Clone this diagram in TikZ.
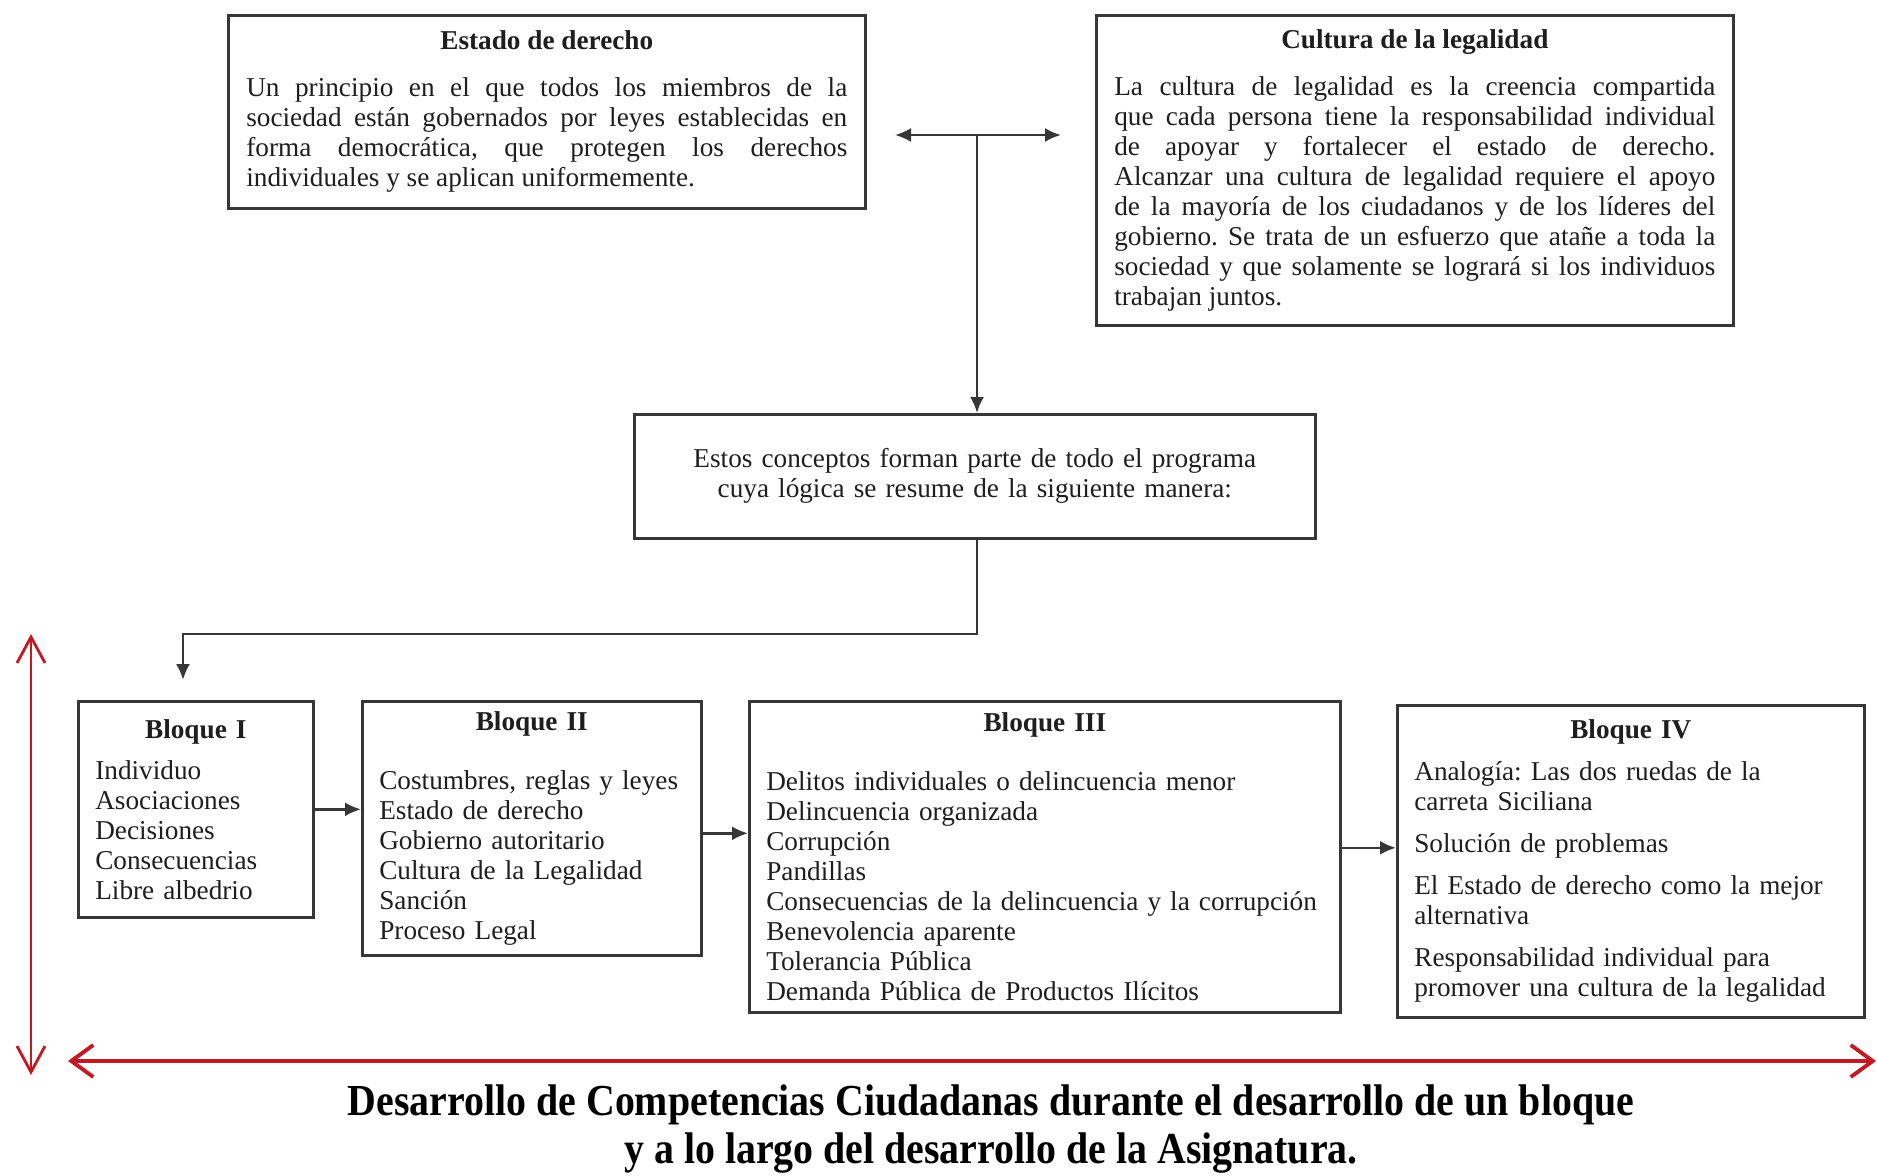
\documentclass[tikz,border=0pt]{standalone}
\usepackage{fontspec}
\setmainfont{Liberation Serif}
\newfontfamily\capfont[FakeStretch=0.9]{Liberation Serif}
\usetikzlibrary{arrows.meta, positioning, calc}
\definecolor{boxline}{RGB}{55,55,55}
\definecolor{inktext}{RGB}{30,30,30}
\definecolor{axisred}{RGB}{195,25,35}
\newcommand{\boxhead}[2]{\centerline{\bfseries #1}\par\vspace{#2}}

\begin{document}
\begin{tikzpicture}[
  box/.style={draw=boxline, line width=0.75pt, anchor=north west, text=inktext,
    inner xsep=0.17cm, inner ysep=0pt, font=\fontsize{7.75}{8.54}\selectfont\frenchspacing},
  link/.style={draw=boxline, line width=0.7pt, -{Latex[length=0.16cm,width=0.14cm]}},
  axis/.style={draw=axisred, line width=1.1pt}
]
  \useasboundingbox (0,0) rectangle (18.77,-11.75);

  % Top boxes
  \node[box, align=justify, minimum width=6.37cm, minimum height=1.93cm, text width=6.01cm] (estado) at (2.27,-0.14)
    {\boxhead{Estado de derecho}{0.17cm}Un principio en el que todos los miembros de la\linebreak
     sociedad están gobernados por leyes establecidas en\linebreak
     forma democrática, que protegen los derechos\linebreak
     individuales y se aplican uniformemente.};
  \node[box, align=justify, minimum width=6.37cm, minimum height=3.10cm, text width=6.01cm] (cultura) at (10.95,-0.14)
    {\boxhead{Cultura de la legalidad}{0.17cm}La cultura de legalidad es la creencia compartida\linebreak
     que cada persona tiene la responsabilidad individual\linebreak
     de apoyar y fortalecer el estado de derecho.\linebreak
     Alcanzar una cultura de legalidad requiere el apoyo\linebreak
     de la mayoría de los ciudadanos y de los líderes del\linebreak
     gobierno. Se trata de un esfuerzo que atañe a toda la\linebreak
     sociedad y que solamente se logrará si los individuos\linebreak
     trabajan juntos.};

  % Middle box
  \node[box, align=center, minimum width=6.81cm, minimum height=1.24cm, text width=6.47cm] (resumen) at (6.33,-4.13)
    {Estos conceptos forman parte de todo el programa\\cuya lógica se resume de la siguiente manera:};

  % Bloques
  \node[box, align=left, minimum width=2.35cm, minimum height=2.16cm, text width=2.01cm] (b1) at (0.77,-7.00)
    {\boxhead{Bloque I}{0.11cm}Individuo\\Asociaciones\\Decisiones\\Consecuencias\\Libre albedrio};
  \node[box, align=left, minimum width=3.39cm, minimum height=2.54cm, text width=3.05cm] (b2) at (3.61,-7.00)
    {\boxhead{Bloque II}{0.29cm}Costumbres, reglas y leyes\\Estado de derecho\\Gobierno autoritario\\
     Cultura de la Legalidad\\Sanción\\Proceso Legal};
  \node[box, align=left, minimum width=5.91cm, minimum height=3.11cm, text width=5.57cm] (b3) at (7.48,-7.00)
    {\boxhead{Bloque III}{0.29cm}Delitos individuales o delincuencia menor\\Delincuencia organizada\\
     Corrupción\\Pandillas\\Consecuencias de la delincuencia y la corrupción\\
     Benevolencia aparente\\Tolerancia Pública\\Demanda Pública de Productos Ilícitos};
  \node[box, align=left, minimum width=4.67cm, minimum height=3.12cm, text width=4.33cm] (b4) at (13.96,-7.04)
    {\boxhead{Bloque IV}{0.12cm}Analogía: Las dos ruedas de la\\carreta Siciliana\\[0.12cm]
     Solución de problemas\\[0.12cm]El Estado de derecho como la mejor\\alternativa\\[0.12cm]
     Responsabilidad individual para\\promover una cultura de la legalidad};

  % Arrows
  \coordinate (hl) at (8.95,-1.35);
  \coordinate (hr) at (10.61,-1.35);
  \coordinate (hm) at (9.77,-1.35);
  \coordinate (turn) at (1.83,-6.34);
  \coordinate (down) at (1.83,-6.80);
  \draw[link, {Latex[length=0.16cm,width=0.14cm]}-{Latex[length=0.16cm,width=0.14cm]}] (hl) -- (hr);
  \draw[link] (hm) -- (hm |- resumen.north);
  \draw[link] (hm |- resumen.south) |- (turn) -- (down);
  \draw[link] (b1.east) -- (b1.east -| b2.west);
  \draw[link] ([yshift=-0.05cm]b2.east) -- ([yshift=-0.05cm]b2.east -| b3.west);
  \draw[link] ([yshift=0.09cm]b3.east) -- ([yshift=0.09cm]b3.east -| b4.west);

  % Red axes
  \coordinate (vtop) at (0.31,-6.34);
  \coordinate (vbot) at (0.31,-10.75);
  \coordinate (hleft) at (0.68,-10.61);
  \coordinate (hright) at (18.76,-10.61);
  \draw[axis, line width=0.8pt, {Straight Barb[length=0.26cm,width=0.28cm]}-{Straight Barb[length=0.26cm,width=0.28cm]}] (vtop) -- (vbot);
  \draw[axis, {Straight Barb[length=0.22cm,width=0.32cm]}-{Straight Barb[length=0.22cm,width=0.32cm]}] (hleft) -- (hright);

  % Caption
  \node[align=center, text=black, font=\capfont\bfseries\fontsize{12.6}{13.66}\selectfont] (caption) at (9.91,-11.29)
    {Desarrollo de Competencias Ciudadanas durante el desarrollo de un bloque\\
     y a lo largo del desarrollo de la Asignatura.};
\end{tikzpicture}
\end{document}
